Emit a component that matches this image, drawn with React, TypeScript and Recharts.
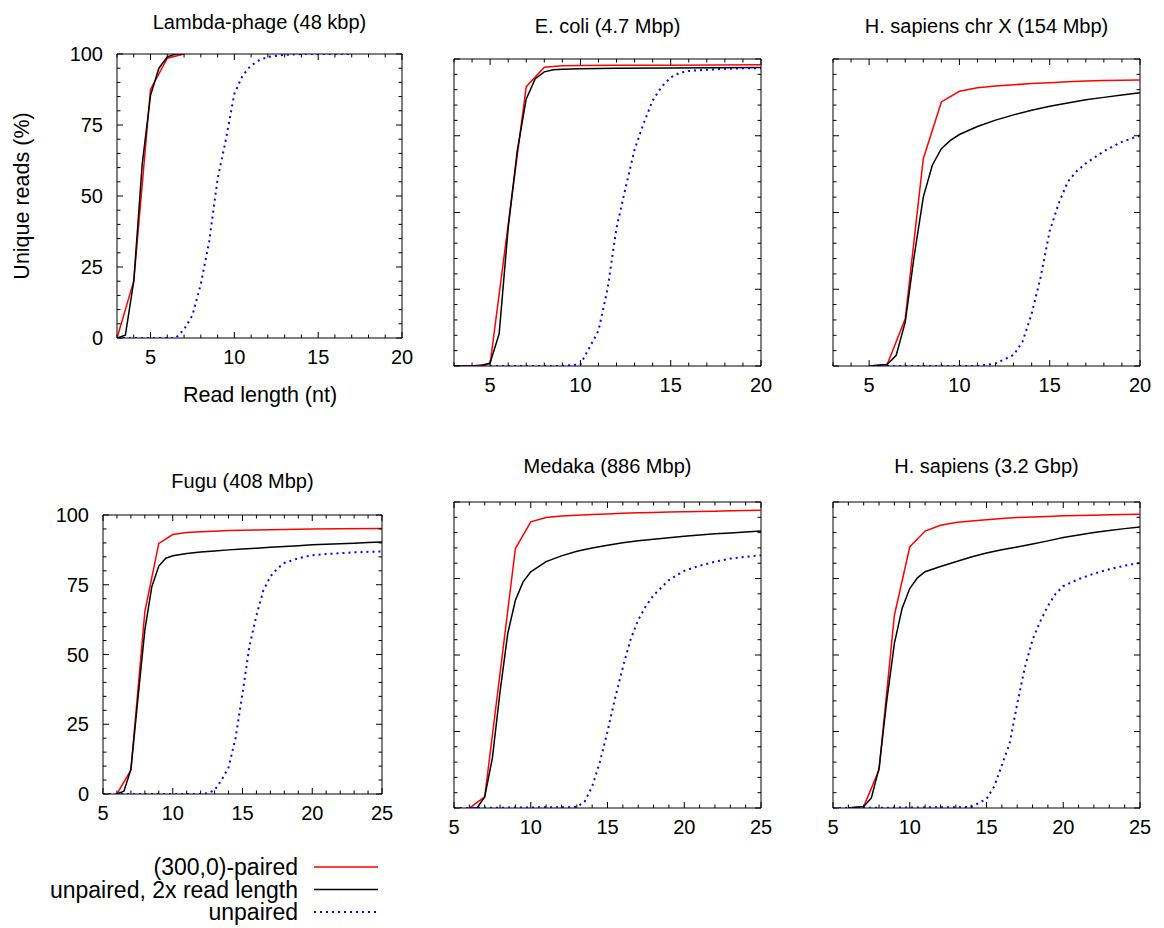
import { Line, LineChart, ReferenceArea, XAxis, YAxis } from 'recharts'

// [read length, unique reads %]
const lambdaPaired = [[3, 0], [4, 20], [5, 87.5], [6, 98.5], [7, 100]]
const lambdaDoubled = [[3, 0], [3.5, 1], [4, 20], [4.5, 61], [5, 85.5], [5.5, 95], [6, 99], [6.5, 100], [7, 100]]
const lambdaUnpaired = [[3, 0], [6.5, 0], [7, 3], [7.5, 8], [8, 19], [8.5, 34], [9, 56], [9.5, 70], [10, 86], [10.5, 92.5],
  [11, 96], [11.5, 97.8], [12, 99], [13, 99.7], [14, 100], [17, 100]]

const ecoliPaired = [[3, 0], [4, 0], [5, 0.7], [6, 46], [7, 91], [8, 97.3], [9, 97.8], [10, 97.9], [12, 98], [15, 98], [20, 98.1]]
const ecoliDoubled = [[3, 0], [4.5, 0], [5, 1], [5.5, 10.5], [6, 45], [6.5, 70], [7, 87], [7.5, 93.6], [8, 95.8], [8.5, 96.5],
  [9, 96.7], [10, 96.8], [12, 97], [15, 97.1], [20, 97.2]]
const ecoliUnpaired = [[3, 0], [9, 0], [10, 0.5], [11, 11.5], [11.5, 25], [12, 45], [12.5, 58], [13, 70.5], [13.5, 79], [14, 86.5],
  [14.5, 91], [15, 94], [15.5, 95.5], [16, 96.1], [17, 96.5], [18, 96.8], [19, 97], [20, 97]]

const chrxPaired = [[5, 0], [6, 0.5], [7, 15.4], [8, 67.5], [9, 86], [10, 89.5], [11, 90.6], [12, 91.2], [13, 91.6], [14, 92],
  [15, 92.3], [16, 92.6], [17, 92.8], [18, 93], [19, 93.1], [20, 93.2]]
const chrxDoubled = [[5, 0], [6, 0.5], [6.5, 3.5], [7, 14.3], [7.5, 36], [8, 55], [8.5, 65.4], [9, 70.8], [9.5, 73.5], [10, 75.4],
  [11, 78], [12, 80.1], [13, 81.8], [14, 83.3], [15, 84.6], [16, 85.7], [17, 86.7], [18, 87.5], [19, 88.3], [20, 89]]
const chrxUnpaired = [[5, 0], [11, 0], [12, 0.8], [13, 3.6], [13.5, 8], [14, 17], [14.5, 29], [15, 44], [15.5, 53], [16, 60],
  [16.5, 63.5], [17, 66], [18, 70], [19, 73], [20, 75.1]]

const fuguPaired = [[6, 0], [7, 8.6], [8, 65.4], [9, 89.8], [10, 93], [11, 93.7], [12, 94], [13, 94.2], [14, 94.4], [15, 94.5],
  [16, 94.6], [17, 94.7], [18, 94.8], [19, 94.9], [20, 95], [22, 95.1], [25, 95.2]]
const fuguDoubled = [[6, 0], [6.5, 1], [7, 8.8], [7.5, 34], [8, 58.8], [8.5, 74.3], [9, 81.7], [9.5, 84.5], [10, 85.4], [11, 86.2],
  [12, 86.7], [13, 87.1], [14, 87.5], [15, 87.8], [16, 88.1], [17, 88.4], [18, 88.7], [19, 89], [20, 89.3], [21, 89.5],
  [22, 89.7], [23, 89.9], [24, 90.1], [25, 90.3]]
const fuguUnpaired = [[5, 0], [12, 0], [12.5, 0.3], [13, 1.4], [13.5, 5], [14, 9.5], [14.5, 20], [15, 36], [15.5, 53], [16, 64],
  [16.5, 73], [17, 78], [17.5, 80.8], [18, 82.8], [19, 84.5], [20, 85.6], [21, 86], [22, 86.3], [23, 86.6], [24, 86.8], [25, 86.9]]

const medakaPaired = [[6, 0], [7, 3.6], [8, 44], [9, 84.8], [10, 93.5], [11, 94.9], [12, 95.4], [13, 95.7], [14, 95.9], [15, 96.1],
  [16, 96.3], [17, 96.5], [18, 96.6], [19, 96.7], [20, 96.8], [21, 96.9], [22, 97], [23, 97.1], [24, 97.2], [25, 97.3]]
const medakaDoubled = [[6, 0], [6.5, 0], [7, 3.6], [7.5, 16.3], [8, 38], [8.5, 57], [9, 67.9], [9.5, 73.9], [10, 77.2], [11, 80.5],
  [12, 82.4], [13, 83.9], [14, 85], [15, 85.9], [16, 86.7], [17, 87.3], [18, 87.8], [19, 88.3], [20, 88.8], [21, 89.2],
  [22, 89.6], [23, 89.9], [24, 90.2], [25, 90.5]]
const medakaUnpaired = [[5, 0], [13, 0.3], [13.5, 2], [14, 7], [14.5, 15], [15, 25], [15.5, 36], [16, 46], [16.5, 55], [17, 61.5],
  [17.5, 66], [18, 69.5], [19, 74.5], [20, 77.5], [21, 79.2], [22, 80.5], [23, 81.5], [24, 82.1], [25, 82.6]]

const humanPaired = [[6, 0], [7, 0.5], [8, 12.5], [9, 63], [10, 85.3], [11, 90.5], [12, 92.4], [13, 93.3], [14, 93.8], [15, 94.2],
  [16, 94.6], [17, 94.9], [18, 95.1], [19, 95.3], [20, 95.5], [21, 95.6], [22, 95.7], [23, 95.8], [24, 95.9], [25, 96]]
const humanDoubled = [[6, 0], [7, 0.5], [7.5, 3.3], [8, 13], [8.5, 35], [9, 53.8], [9.5, 65.2], [10, 71.7], [10.5, 75.2], [11, 77.2],
  [12, 78.9], [13, 80.5], [14, 82], [15, 83.3], [16, 84.4], [17, 85.3], [18, 86.3], [19, 87.3], [20, 88.4], [21, 89.2],
  [22, 90], [23, 90.7], [24, 91.3], [25, 91.8]]
const humanUnpaired = [[5, 0], [14, 0.3], [15, 3], [15.5, 7], [16, 14], [16.5, 21], [17, 34], [17.5, 46], [18, 55], [18.5, 61],
  [19, 66], [19.5, 70], [20, 72.5], [21, 74.8], [22, 76.6], [23, 78], [24, 79.2], [25, 80.1]]

const SHORT_TICKS = [3, 4, 5, 6, 7, 8, 9, 10, 11, 12, 13, 14, 15, 16, 17, 18, 19, 20]
const LONG_TICKS = [5, 6, 7, 8, 9, 10, 11, 12, 13, 14, 15, 16, 17, 18, 19, 20, 21, 22, 23, 24, 25]
const Y_TICKS = [0, 5, 10, 15, 20, 25, 30, 35, 40, 45, 50, 55, 60, 65, 70, 75, 80, 85, 90, 95, 100]

const SERIES = [
  { key: 'paired', label: '(300,0)-paired', color: '#ff0000', width: 1.5, dash: undefined },
  { key: 'doubled', label: 'unpaired, 2x read length', color: '#000000', width: 1.5, dash: undefined },
  { key: 'unpaired', label: 'unpaired', color: '#0000ff', width: 2, dash: '2 4' },
]

const FONT = '"Liberation Sans", Arial, Helvetica, sans-serif'
const FS = 20
const AXIS_FS = 21.5
const LEGEND_FS = 23
const ML = 60
const MT = 10
const MR = 20
const MB = 40

type Box = { left: number; top: number; width: number; height: number }
interface PanelDef {
  title: string
  titleY: number
  box: Box
  xDomain: [number, number]
  xTicks: number[]
  showY: boolean
  lines: Record<string, number[][]>
}

const PANELS: PanelDef[] = [
  { title: 'Lambda-phage (48 kbp)', titleY: 29, box: { left: 117, top: 54, width: 285, height: 284 }, xDomain: [3, 20],
    xTicks: SHORT_TICKS, showY: true, lines: { paired: lambdaPaired, doubled: lambdaDoubled, unpaired: lambdaUnpaired } },
  { title: 'E. coli (4.7 Mbp)', titleY: 33, box: { left: 454, top: 59, width: 307, height: 307 }, xDomain: [3, 20],
    xTicks: SHORT_TICKS, showY: false, lines: { paired: ecoliPaired, doubled: ecoliDoubled, unpaired: ecoliUnpaired } },
  { title: 'H. sapiens chr X (154 Mbp)', titleY: 33, box: { left: 833, top: 59, width: 307, height: 307 }, xDomain: [3, 20],
    xTicks: SHORT_TICKS, showY: false, lines: { paired: chrxPaired, doubled: chrxDoubled, unpaired: chrxUnpaired } },
  { title: 'Fugu (408 Mbp)', titleY: 488, box: { left: 103, top: 515, width: 279, height: 279 }, xDomain: [5, 25],
    xTicks: LONG_TICKS, showY: true, lines: { paired: fuguPaired, doubled: fuguDoubled, unpaired: fuguUnpaired } },
  { title: 'Medaka (886 Mbp)', titleY: 473, box: { left: 454, top: 502, width: 307, height: 306 }, xDomain: [5, 25],
    xTicks: LONG_TICKS, showY: false, lines: { paired: medakaPaired, doubled: medakaDoubled, unpaired: medakaUnpaired } },
  { title: 'H. sapiens (3.2 Gbp)', titleY: 473, box: { left: 833, top: 502, width: 307, height: 306 }, xDomain: [5, 25],
    xTicks: LONG_TICKS, showY: false, lines: { paired: humanPaired, doubled: humanDoubled, unpaired: humanUnpaired } },
]

const toPts = (a: number[][]) => a.map(([x, y]) => ({ x, y }))

function XTick(props: any) {
  const { x, payload, plotTop, plotBottom } = props
  const v = payload.value
  const major = v % 5 === 0
  const len = major ? 6 : 3.5
  return (
    <g>
      <line x1={x} x2={x} y1={plotBottom} y2={plotBottom - len} stroke="#000" />
      <line x1={x} x2={x} y1={plotTop} y2={plotTop + len} stroke="#000" />
      {major && (
        <text x={x} y={plotBottom + 26} textAnchor="middle" fontFamily={FONT} fontSize={FS} fill="#000">{v}</text>
      )}
    </g>
  )
}

function YTick(props: any) {
  const { y, payload, plotLeft, plotRight, showLabel } = props
  const v = payload.value
  const major = v % 25 === 0
  const len = major ? 6 : 3.5
  return (
    <g>
      <line x1={plotLeft} x2={plotLeft + len} y1={y} y2={y} stroke="#000" />
      <line x1={plotRight} x2={plotRight - len} y1={y} y2={y} stroke="#000" />
      {major && showLabel && (
        <text x={plotLeft - 14} y={y + 7} textAnchor="end" fontFamily={FONT} fontSize={FS} fill="#000">{v}</text>
      )}
    </g>
  )
}

function Panel({ p }: { p: PanelDef }) {
  const { left, top, width, height } = p.box
  const plotLeft = ML
  const plotRight = ML + width
  const plotTop = MT
  const plotBottom = MT + height
  return (
    <div style={{ position: 'absolute', left: left - ML, top: top - MT }}>
      <LineChart width={ML + width + MR} height={MT + height + MB} margin={{ top: MT, right: MR, bottom: 0, left: 0 }}>
        <XAxis type="number" dataKey="x" domain={p.xDomain} ticks={p.xTicks} interval={0} allowDataOverflow
          axisLine={false} tickLine={false} height={MB}
          tick={(t: any) => <XTick {...t} plotTop={plotTop} plotBottom={plotBottom} />} />
        <YAxis type="number" domain={[0, 100]} ticks={Y_TICKS} interval={0} allowDataOverflow
          axisLine={false} tickLine={false} width={ML}
          tick={(t: any) => <YTick {...t} plotLeft={plotLeft} plotRight={plotRight} showLabel={p.showY} />} />
        <ReferenceArea x1={p.xDomain[0]} x2={p.xDomain[1]} y1={0} y2={100} fill="none" stroke="#000" strokeWidth={1} />
        {SERIES.map((s) => (
          <Line key={s.key} data={toPts(p.lines[s.key])} dataKey="y" type="linear" stroke={s.color}
            strokeWidth={s.width} strokeDasharray={s.dash} dot={false} activeDot={false} isAnimationActive={false} />
        ))}
      </LineChart>
    </div>
  )
}

export default function App() {
  return (
    <div style={{ position: 'absolute', left: 0, top: 0, width: 1164, height: 928, background: '#fff', fontFamily: FONT }}>
      <svg width={1164} height={928} style={{ position: 'absolute', left: 0, top: 0 }}>
        {PANELS.map((p) => (
          <text key={p.title} x={p.box.left + p.box.width / 2} y={p.titleY} textAnchor="middle" fontFamily={FONT}
            fontSize={FS} fill="#000">{p.title}</text>
        ))}
        <text x={260} y={402} textAnchor="middle" fontFamily={FONT} fontSize={AXIS_FS} fill="#000">Read length (nt)</text>
        <text transform="translate(29,196) rotate(-90)" textAnchor="middle" fontFamily={FONT} fontSize={AXIS_FS} fill="#000">
          Unique reads (%)
        </text>
        {SERIES.map((s, i) => (
          <g key={s.key}>
            <text x={298} y={875 + i * 22.5} textAnchor="end" fontFamily={FONT} fontSize={LEGEND_FS} fill="#000">{s.label}</text>
            <line x1={314} x2={378} y1={867 + i * 22.5} y2={867 + i * 22.5} stroke={s.color} strokeWidth={s.width}
              strokeDasharray={s.dash} />
          </g>
        ))}
      </svg>
      {PANELS.map((p) => <Panel key={p.title} p={p} />)}
    </div>
  )
}
